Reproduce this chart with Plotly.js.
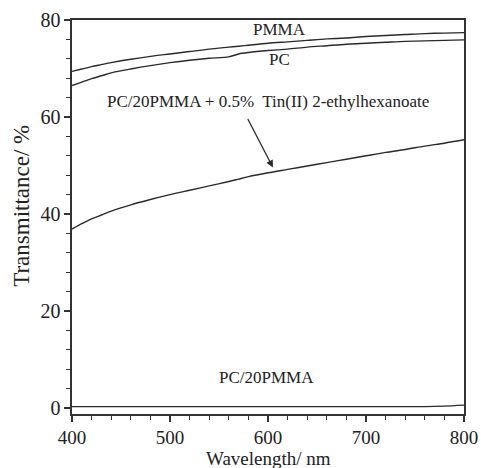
<!DOCTYPE html>
<html>
<head>
<meta charset="utf-8">
<script src="https://cdn.plot.ly/plotly-3.0.1.min.js"></script>
<style>html,body{margin:0;padding:0;background:#fff;}#chart{width:481px;height:468px;}</style>
</head>
<body>
<div id="chart"></div>
<script>
// Wavelength (nm)
const wavelength = [400,410,420,430,440,460,480,500,520,540,560,570,580,600,620,640,660,680,700,720,740,760,780,800];
// Transmittance (%)
const pmma   = [69.4,69.9,70.4,70.8,71.2,71.9,72.5,73.0,73.5,74.0,74.4,74.6,74.8,75.2,75.5,75.8,76.1,76.3,76.6,76.8,77.0,77.2,77.3,77.4];
const pc     = [66.5,67.2,67.9,68.5,69.1,69.9,70.6,71.2,71.7,72.1,72.4,73.0,73.3,73.7,74.0,74.4,74.7,75.0,75.2,75.4,75.6,75.7,75.8,75.9];
const pcTin  = [36.9,38.0,39.0,39.8,40.6,41.9,43.0,44.0,44.9,45.8,46.7,47.2,47.7,48.5,49.2,49.9,50.6,51.3,52.0,52.7,53.3,54.0,54.6,55.3];
const pc20   = [0.3,0.3,0.3,0.3,0.3,0.3,0.3,0.3,0.3,0.3,0.3,0.3,0.3,0.3,0.3,0.3,0.3,0.3,0.3,0.3,0.3,0.3,0.4,0.6];

// Curve labels
const labelText = ["PMMA", "PC", "PC/20PMMA + 0.5%\u00a0 Tin(II) 2-ethylhexanoate", "PC/20PMMA"];
const labelX = [612, 612, 600, 598];
const labelY = [78.1, 71.9, 63.1, 6.2];
// Arrow: tail -> head
const arrowTail = [578.6, 59.9];
const arrowHead = [605, 49.6];
const xTitle = 'Wavelength/ nm';
const yTitle = 'Transmittance/ %';

const lineColor = '#2a2a2a';
const mk = (y) => ({x: wavelength, y: y, type: 'scatter', mode: 'lines',
  line: {color: lineColor, width: 1.4, shape: 'spline', smoothing: 0.8}, showlegend: false, hoverinfo: 'skip'});
const data = [mk(pmma), mk(pc), mk(pcTin), mk(pc20)];

const font = {family: '"Liberation Serif", "Times New Roman", serif', color: '#222222'};
const annotations = labelText.map((t, i) => ({
  text: t, x: labelX[i], y: labelY[i], xref: 'x', yref: 'y', showarrow: false,
  font: Object.assign({}, font, {size: 17}), xanchor: 'center', yanchor: 'middle'
}));
annotations.push({
  text: '', x: arrowHead[0], y: arrowHead[1], xref: 'x', yref: 'y',
  axref: 'x', ayref: 'y', ax: arrowTail[0], ay: arrowTail[1],
  showarrow: true, arrowhead: 2, arrowsize: 1.1, arrowwidth: 1.3, arrowcolor: lineColor
});
// axis titles placed as paper annotations
annotations.push({
  text: xTitle, xref: 'paper', yref: 'paper', x: 0.5, y: -0.1135,
  xanchor: 'center', yanchor: 'middle', showarrow: false,
  font: Object.assign({}, font, {size: 19})
});
annotations.push({
  text: yTitle, xref: 'paper', yref: 'paper', x: -0.128, y: 0.528,
  xanchor: 'center', yanchor: 'middle', showarrow: false, textangle: -90,
  font: Object.assign({}, font, {size: 23})
});

const axisCommon = {
  showline: true, linecolor: '#333', linewidth: 1.6, mirror: true,
  ticks: 'outside', ticklen: 6, tickwidth: 1.4, tickcolor: '#333',
  showgrid: false, zeroline: false,
  tickfont: Object.assign({}, font, {size: 20})
};

const layout = {
  width: 481, height: 468,
  margin: {l: 72, r: 17, t: 20, b: 54},
  paper_bgcolor: '#fff', plot_bgcolor: '#fff',
  xaxis: Object.assign({}, axisCommon, {
    range: [400, 800], tickvals: [400,500,600,700,800],
    tickfont: Object.assign({}, font, {size: 19}),
    minor: {dtick: 20, tick0: 400, ticks: 'outside', ticklen: 4, tickwidth: 1.2, tickcolor: '#333'}
  }),
  yaxis: Object.assign({}, axisCommon, {
    range: [-1.23, 80], tickvals: [0,20,40,60,80],
    minor: {dtick: 4, tick0: 0, ticks: 'outside', ticklen: 4, tickwidth: 1.2, tickcolor: '#333'}
  }),
  annotations: annotations
};

Plotly.newPlot('chart', data, layout, {displayModeBar: false, staticPlot: true});
</script>
</body>
</html>
